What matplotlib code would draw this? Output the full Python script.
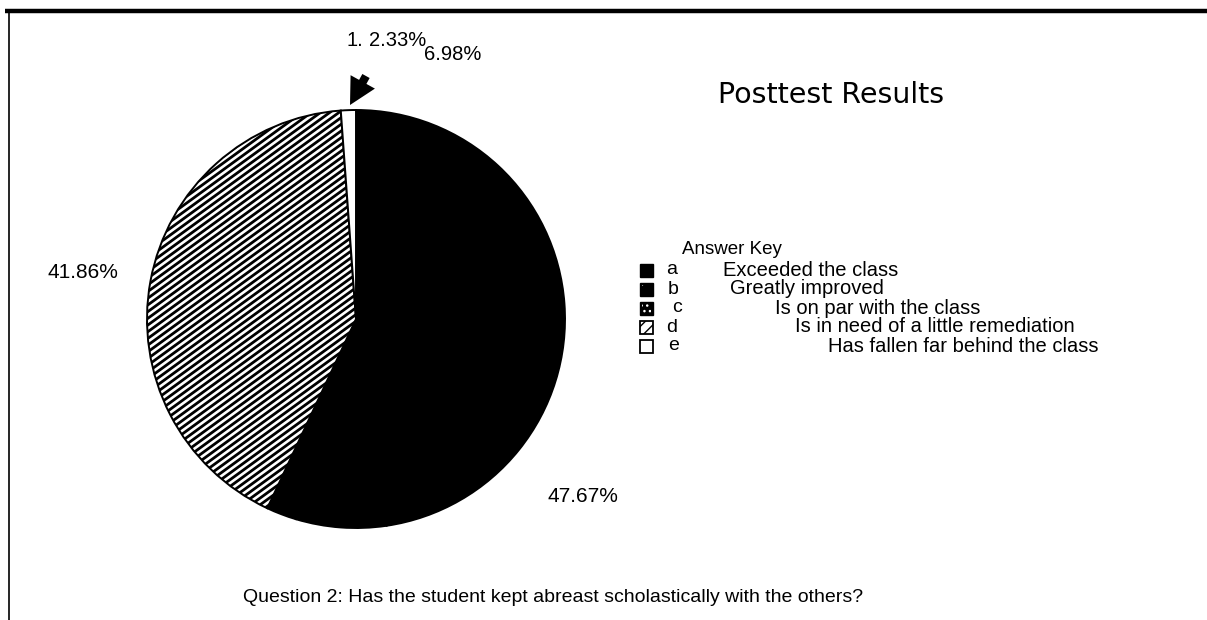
import numpy as np
import matplotlib
matplotlib.use("Agg")
import matplotlib.pyplot as plt
from matplotlib.patches import Rectangle

# ---- data ----
categories = ["a", "b", "c", "d", "e"]
descriptions = ["Exceeded the class", "Greatly improved", "Is on par with the class",
                "Is in need of a little remediation", "Has fallen far behind the class"]
values = [47.67, 6.98, 2.33, 41.86, 1.16]
title = "Posttest Results"
legend_title = "Answer Key"
question = "Question 2: Has the student kept abreast scholastically with the others?"

W, H = 1207, 620
fig = plt.figure(figsize=(W / 100, H / 100), dpi=100)
ax = fig.add_axes([0, 0, 1, 1])

def Y(yp):
    return H - yp

FONT = ["Liberation Sans", "DejaVu Sans"]

# ---- pie ----
cx, cy, r = 356, Y(319), 209
face = ["black", "black", "black", "white", "white"]
wedges, _ = ax.pie(values, colors=face, startangle=90, counterclock=False,
                   center=(cx, cy), radius=r,
                   wedgeprops=dict(edgecolor="black", linewidth=1.4))

# diagonal stripes of the "d" wedge, clipped to it
theta = np.deg2rad(36)
xs = np.array([cx - r - 20, cx + r + 20])
for b in np.arange(-900, 900, 6.7):
    ln, = ax.plot(xs, cy + (xs - cx) * np.tan(theta) + b, color="black",
                  lw=2.0, solid_capstyle="butt")
    ln.set_clip_path(wedges[3])

ax.set_xlim(0, W)
ax.set_ylim(0, H)
ax.set_aspect("auto")
ax.axis("off")

# ---- value labels ----
lab = [f"{v:.2f}%" for v in values]
ax.text(547, Y(496), lab[0], fontsize=15, family=FONT, va="center", ha="left")
ax.text(424, Y(54), lab[1], fontsize=14.5, family=FONT, va="center", ha="left")
ax.text(369, Y(40), lab[2], fontsize=14.5, family=FONT, va="center", ha="left")
ax.text(48, Y(272), lab[3], fontsize=15, family=FONT, va="center", ha="left")
ax.text(346, Y(40), lab[4][:2], fontsize=14.5, family=FONT, va="center", ha="left")
ax.annotate("", xy=(350, Y(105)), xytext=(366, Y(76)),
            arrowprops=dict(arrowstyle="simple,head_length=1.9,head_width=2.0,tail_width=0.6",
                            color="black", lw=0, shrinkA=0, shrinkB=0,
                            mutation_scale=10))

# ---- title / legend ----
ax.text(718, Y(95), title, fontsize=20.5, family=["DejaVu Sans"], va="center", ha="left")
ax.text(682, Y(250), legend_title, fontsize=13.5, family=FONT, va="center", ha="left")

rows = [270, 289, 308, 327, 346]
letter_x = [666, 668, 672, 666, 668]
text_x = [723, 730, 775, 795, 828]
sq = 13
for i, (cat, desc) in enumerate(zip(categories, descriptions)):
    yc = Y(rows[i])
    if i < 3:
        rect = Rectangle((640, yc - sq / 2), sq, sq, facecolor="black", edgecolor="black", lw=1)
    elif i == 3:
        rect = Rectangle((640, yc - sq / 2), sq, sq, facecolor="white", edgecolor="black",
                         lw=1.3, hatch="///")
    else:
        rect = Rectangle((640, yc - sq / 2), sq, sq, facecolor="white", edgecolor="black", lw=1.3)
    ax.add_patch(rect)
    if i in (1, 2):
        ax.add_patch(Rectangle((642, yc - sq / 2 + 2), sq - 4, sq - 4, facecolor="none",
                               edgecolor="white", lw=0, hatch="." if i == 1 else "..."))
    ax.text(letter_x[i], yc, cat, fontsize=14, family=FONT, va="center", ha="left")
    ax.text(text_x[i], yc, desc, fontsize=14.5, family=FONT, va="center", ha="left")

ax.text(243, Y(598), question, fontsize=14, family=FONT, va="center", ha="left")

# ---- frame lines ----
ax.plot([5, W], [Y(11), Y(11)], color="black", lw=3.2, solid_capstyle="butt")
ax.plot([9, 9], [Y(11), 0], color="black", lw=1.2)

fig.savefig("out.png", dpi=100, facecolor="white")
